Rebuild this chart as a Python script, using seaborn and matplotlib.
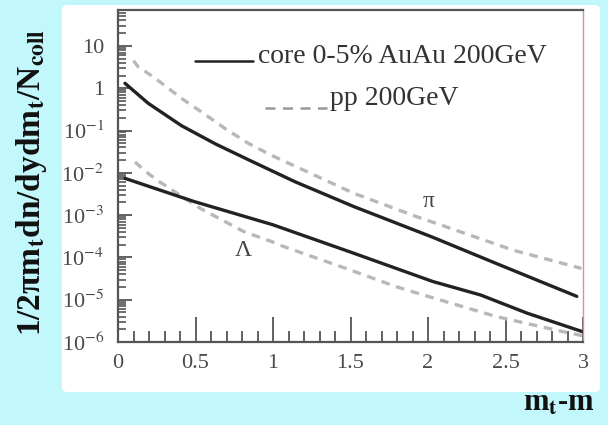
import numpy as np
import pandas as pd
import seaborn as sns
import matplotlib
matplotlib.use("Agg")
import matplotlib.pyplot as plt
from matplotlib.patches import FancyBboxPatch
from matplotlib.ticker import FixedLocator, FixedFormatter, MultipleLocator, NullFormatter

# Spectra: (m_t - m) in GeV, invariant yield per binary collision
pi_auau_x = [0.045, 0.195, 0.41, 0.63, 0.84, 1.14, 1.52, 2.03, 2.44, 2.96]
pi_auau_y = [1.31, 0.44, 0.13, 0.048, 0.0205, 6.2e-3, 1.6e-3, 3.0e-4, 7.2e-5, 1.2e-5]

pi_pp_x = [0.10, 0.13, 0.195, 0.27, 0.41, 0.55, 0.69, 0.84, 0.99, 1.52, 1.93, 2.08, 2.55, 2.99]
pi_pp_y = [4.5, 3.2, 2.24, 1.42, 0.575, 0.257, 0.112, 0.050, 0.026, 3.3e-3, 9.1e-4, 5.9e-4,
           1.48e-4, 5.5e-5]

lam_auau_x = [0.045, 0.49, 1.0, 1.52, 2.03, 2.34, 2.64, 3.0]
lam_auau_y = [7.4e-3, 2.1e-3, 5.9e-4, 1.26e-4, 2.7e-5, 1.29e-5, 4.8e-6, 1.74e-6]

lam_pp_x = [0.11, 0.18, 0.25, 0.53, 0.81, 1.0, 1.07, 1.47, 1.8, 2.01, 2.44, 2.83, 3.0]
lam_pp_y = [0.018, 0.0107, 6.8e-3, 1.45e-3, 4.1e-4, 2.3e-4, 1.8e-4, 5.5e-5, 2.0e-5, 1.17e-5,
            4.0e-6, 1.9e-6, 1.4e-6]

ytick_vals = [1e-6, 1e-5, 1e-4, 1e-3, 1e-2, 1e-1, 1, 10]
ytick_labels = ["10$^{-6}$", "10$^{-5}$", "10$^{-4}$", "10$^{-3}$", "10$^{-2}$",
                "10$^{-1}$", "1", "10"]
xtick_vals = [0, 0.5, 1, 1.5, 2, 2.5, 3]
xtick_labels = ["0", "0.5", "1", "1.5", "2", "2.5", "3"]

legend_auau = "core 0-5% AuAu 200GeV"
legend_pp = "pp 200GeV"

sns.set_theme(style="white")
plt.rcParams["font.family"] = ["Liberation Serif", "DejaVu Serif"]
plt.rcParams["mathtext.fontset"] = "stix"
plt.rcParams["ytick.minor.visible"] = True
plt.rcParams["ytick.minor.left"] = True
plt.rcParams["ytick.minor.size"] = 6
plt.rcParams["ytick.minor.width"] = 1.2

bg = "#c2f8fc"
fig = plt.figure(figsize=(6.08, 4.25), dpi=100, facecolor=bg)

# white panel behind the plot
panel = FancyBboxPatch((62 / 608, 1 - 392 / 425), (600 - 62) / 608, (392 - 5) / 425,
                       boxstyle="round,pad=0,rounding_size=0.01",
                       transform=fig.transFigure, facecolor="white",
                       edgecolor="none", zorder=-5)
fig.patches.append(panel)

ax = fig.add_axes([118 / 608, 1 - 342 / 425, (583 - 118) / 608, (342 - 10) / 425])
ax.set_zorder(2)
ax.set_facecolor("white")
ax.set_yscale("log")

series = [
    (pi_pp_x, pi_pp_y, "#b8b8b8", (0, (2.6, 2.0))),
    (lam_pp_x, lam_pp_y, "#b8b8b8", (0, (2.6, 2.0))),
    (pi_auau_x, pi_auau_y, "#222222", "-"),
    (lam_auau_x, lam_auau_y, "#222222", "-"),
]
for xs, ys, col, ls in series:
    df = pd.DataFrame({"x": xs, "y": ys})
    sns.lineplot(data=df, x="x", y="y", ax=ax, color=col, linewidth=2.4,
                 linestyle=ls, estimator=None, sort=False)

ax.set_xlim(0, 3)
ax.set_ylim(1e-6, 10 ** 1.85)
ax.set_xlabel("")
ax.set_ylabel("")

# decade ticks with 2..9 sub-ticks in every decade
minor_y = [m * 10.0 ** e for e in range(-6, 2) for m in range(2, 10)]
ax.yaxis.set_major_locator(FixedLocator(ytick_vals))
ax.yaxis.set_major_formatter(FixedFormatter(ytick_labels))
ax.yaxis.set_minor_locator(FixedLocator(minor_y))
ax.yaxis.set_minor_formatter(NullFormatter())
ax.xaxis.set_major_locator(FixedLocator(xtick_vals))
ax.xaxis.set_major_formatter(FixedFormatter(xtick_labels))
ax.xaxis.set_minor_locator(MultipleLocator(0.1))

tick_col = "#555555"
ax.tick_params(axis="both", which="both", direction="in", colors=tick_col,
               labelcolor="#4a4a4a", labelsize=16, width=1.3,
               bottom=True, left=True, top=False, right=False)
ax.tick_params(axis="y", which="major", length=10, pad=10)
ax.yaxis.set_tick_params(which="minor", left=True, length=6, width=1.2,
                         color=tick_col, direction="in")
ax.tick_params(axis="x", which="major", length=18, pad=9)
ax.tick_params(axis="x", which="minor", length=8)
for side in ["left", "bottom", "top"]:
    ax.spines[side].set_color("#555555")
    ax.spines[side].set_linewidth(1.6)
ax.spines["right"].set_color("#c89aa0")
ax.spines["right"].set_linewidth(1.0)

# legend
ax.plot([0.166, 0.29], [0.846, 0.846], transform=ax.transAxes, color="#222222", lw=1.8)
ax.text(0.301, 0.861, legend_auau, transform=ax.transAxes, fontsize=20,
        color="#333333", va="center", ha="left")
ax.plot([0.316, 0.449], [0.705, 0.705], transform=ax.transAxes, color="#999999",
        lw=1.8, linestyle=(0, (4, 3)))
ax.text(0.456, 0.732, legend_pp, transform=ax.transAxes, fontsize=20,
        color="#333333", va="center", ha="left")

ax.text(0.667, 0.422, "π", transform=ax.transAxes, fontsize=17, color="#444444",
        ha="center", va="center")
ax.text(0.269, 0.277, "Λ", transform=ax.transAxes, fontsize=17, color="#444444",
        ha="center", va="center")

fig.text(32 / 608, 1 - 183 / 425,
         "1/2πm$_\\mathbf{t}$dn/dydm$_\\mathbf{t}$/N$_\\mathbf{coll}$",
         rotation=90, fontsize=24, fontweight="bold", color="#111111",
         ha="center", va="center")
fig.text(559 / 608, 1 - 403 / 425, "m$_\\mathbf{t}$-m", fontsize=22,
         fontweight="bold", color="#111111", ha="center", va="center")

fig.savefig("out.png", dpi=100, facecolor=bg)
